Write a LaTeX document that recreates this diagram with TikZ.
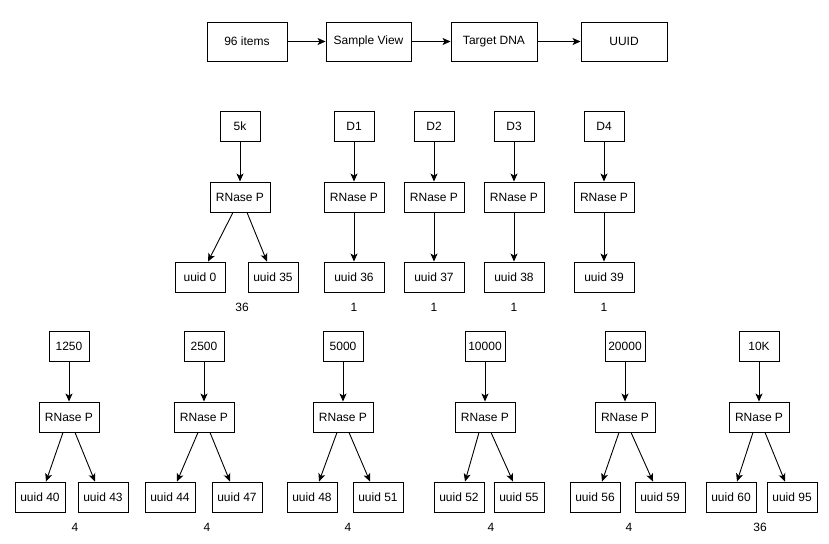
\documentclass[tikz,border=0pt]{standalone}
\usepackage{fontspec}
\setmainfont{Liberation Sans}
\usetikzlibrary{arrows.meta}
\begin{document}
\begin{tikzpicture}[x=1pt,y=-1pt,
    every node/.style={font=\fontsize{12}{14}\selectfont},
    box/.style={draw,line width=0.9pt,minimum height=30pt,inner sep=0pt},
    conc/.style={box,minimum width=40pt},
    rnase/.style={box,minimum width=60pt},
    uid/.style={box,minimum width=50pt},
    arr/.style={-{Stealth[length=8pt,width=7pt,inset=2pt]},line width=0.9pt}]
    \useasboundingbox (0,0) rectangle (829,543);
    %% header
    \node[box,minimum width=80pt,minimum height=39pt] (items) at (247,41.5) {96 items};
    \node[box,minimum width=85pt,minimum height=39pt] (view) at (368.5,41.5) {Sample View};
    \node[box,minimum width=86pt,minimum height=39pt] (dna) at (494,41.5) {Target DNA};
    \node[box,minimum width=86pt,minimum height=39pt] (uuid) at (624,41.5) {UUID};
    \draw[arr] (items) -- (view);
    \draw[arr] (view) -- (dna);
    \draw[arr] (dna) -- (uuid);
    %% 5k
    \node[conc] (c5k) at (240,126) {5k};
    \node[rnase] (r5k) at (240,197) {RNase P};
    \node[uid] (u0) at (200,277) {uuid 0};
    \node[uid] (u35) at (273,277) {uuid 35};
    \node (n5k) at (242,307) {36};
    \draw[arr] (c5k) -- (r5k);
    \draw[arr] ([xshift=-7pt]r5k.south) -- ([xshift=8pt]u0.north);
    \draw[arr] ([xshift=7pt]r5k.south) -- ([xshift=-6pt]u35.north);
    %% D1 - D4
    \node[conc] (d1) at (354,126) {D1};
    \node[rnase] (rd1) at (354,197) {RNase P};
    \node[rnase] (u36) at (354,277) {uuid 36};
    \node (nd1) at (354,307) {1};
    \draw[arr] (d1) -- (rd1);
    \draw[arr] (rd1) -- (u36);
    \node[conc] (d2) at (434,126) {D2};
    \node[rnase] (rd2) at (434,197) {RNase P};
    \node[rnase] (u37) at (434,277) {uuid 37};
    \node (nd2) at (434,307) {1};
    \draw[arr] (d2) -- (rd2);
    \draw[arr] (rd2) -- (u37);
    \node[conc] (d3) at (514,126) {D3};
    \node[rnase] (rd3) at (514,197) {RNase P};
    \node[rnase] (u38) at (514,277) {uuid 38};
    \node (nd3) at (514,307) {1};
    \draw[arr] (d3) -- (rd3);
    \draw[arr] (rd3) -- (u38);
    \node[conc] (d4) at (604,126) {D4};
    \node[rnase] (rd4) at (604,197) {RNase P};
    \node[rnase] (u39) at (604,277) {uuid 39};
    \node (nd4) at (604,307) {1};
    \draw[arr] (d4) -- (rd4);
    \draw[arr] (rd4) -- (u39);
    %% 1250
    \node[conc] (c1250) at (69,346) {1250};
    \node[rnase] (r1250) at (69,417) {RNase P};
    \node[uid] (u40) at (40,497) {uuid 40};
    \node[uid] (u43) at (103,497) {uuid 43};
    \node (n1250) at (75,527) {4};
    \draw[arr] (c1250) -- (r1250);
    \draw[arr] ([xshift=-6pt]r1250.south) -- ([xshift=6pt]u40.north);
    \draw[arr] ([xshift=6pt]r1250.south) -- ([xshift=-8pt]u43.north);
    %% 2500
    \node[conc] (c2500) at (204,346) {2500};
    \node[rnase] (r2500) at (204,417) {RNase P};
    \node[uid] (u44) at (170,497) {uuid 44};
    \node[uid] (u47) at (237,497) {uuid 47};
    \node (n2500) at (207,527) {4};
    \draw[arr] (c2500) -- (r2500);
    \draw[arr] ([xshift=-6pt]r2500.south) -- ([xshift=7pt]u44.north);
    \draw[arr] ([xshift=6pt]r2500.south) -- ([xshift=-7pt]u47.north);
    %% 5000
    \node[conc] (c5000) at (343,346) {5000};
    \node[rnase] (r5000) at (343,417) {RNase P};
    \node[uid] (u48) at (312,497) {uuid 48};
    \node[uid] (u51) at (378,497) {uuid 51};
    \node (n5000) at (348,527) {4};
    \draw[arr] (c5000) -- (r5000);
    \draw[arr] ([xshift=-6pt]r5000.south) -- ([xshift=7pt]u48.north);
    \draw[arr] ([xshift=6pt]r5000.south) -- ([xshift=-8pt]u51.north);
    %% 10000
    \node[conc] (c10000) at (485,346) {10000};
    \node[rnase] (r10000) at (485,417) {RNase P};
    \node[uid] (u52) at (459,497) {uuid 52};
    \node[uid] (u55) at (519,497) {uuid 55};
    \node (n10000) at (491,527) {4};
    \draw[arr] (c10000) -- (r10000);
    \draw[arr] ([xshift=-6pt]r10000.south) -- ([xshift=6pt]u52.north);
    \draw[arr] ([xshift=6pt]r10000.south) -- ([xshift=-6pt]u55.north);
    %% 20000
    \node[conc] (c20000) at (625,346) {20000};
    \node[rnase] (r20000) at (625,417) {RNase P};
    \node[uid] (u56) at (595,497) {uuid 56};
    \node[uid] (u59) at (660,497) {uuid 59};
    \node (n20000) at (629,527) {4};
    \draw[arr] (c20000) -- (r20000);
    \draw[arr] ([xshift=-6pt]r20000.south) -- ([xshift=7pt]u56.north);
    \draw[arr] ([xshift=6pt]r20000.south) -- ([xshift=-7pt]u59.north);
    %% 10K
    \node[conc] (c10k) at (759,346) {10K};
    \node[rnase] (r10k) at (759,417) {RNase P};
    \node[uid] (u60) at (731,497) {uuid 60};
    \node[uid] (u95) at (792,497) {uuid 95};
    \node (n10k) at (760,527) {36};
    \draw[arr] (c10k) -- (r10k);
    \draw[arr] ([xshift=-6pt]r10k.south) -- ([xshift=6pt]u60.north);
    \draw[arr] ([xshift=6pt]r10k.south) -- ([xshift=-7pt]u95.north);
\end{tikzpicture}
\end{document}
